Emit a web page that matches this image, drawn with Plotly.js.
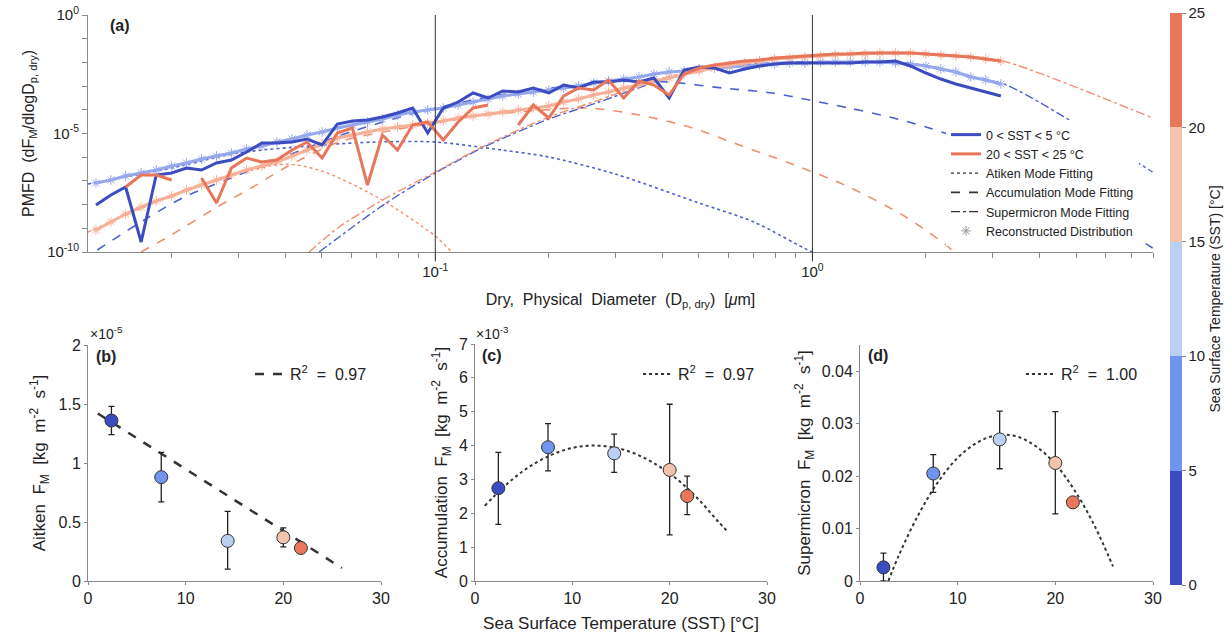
<!DOCTYPE html>
<html>
<head>
<meta charset="utf-8">
<script src="https://cdn.plot.ly/plotly-3.0.1.min.js"></script>
<style>html,body{margin:0;padding:0;background:#fff;}#chart{width:1232px;height:639px;}</style>
</head>
<body>
<div id="chart"></div>
<script>
// ---------- Panel (a): size distributions ----------
const diam = [0.0126,0.0138,0.0151,0.0166,0.0182,0.0200,0.0219,0.0240,0.0263,0.0288,0.0316,0.0347,0.0380,0.0417,0.0457,0.0501,0.0550,0.0603,0.0661,0.0724,0.0794,0.0871,0.0955,0.105,0.115,0.126,0.138,0.151,0.166,0.182,0.200,0.219,0.240,0.263,0.288,0.316,0.347,0.380,0.417,0.457,0.501,0.550,0.603,0.661,0.724,0.794,0.871,0.955,1.05,1.15,1.26,1.38,1.51,1.66,1.82,2.00,2.19,2.40,2.63,2.88,3.16];

const blueMeasured = [9.62e-9,2.54e-8,5.53e-8,2.64e-10,1.77e-7,2.15e-7,3.50e-7,2.88e-7,5.69e-7,7.62e-7,1.66e-6,3.97e-6,3.97e-6,4.38e-6,5.86e-6,3.27e-6,2.52e-5,3.37e-5,3.71e-5,4.97e-5,7.33e-5,1.19e-4,1.05e-5,1.19e-4,2.13e-4,5.12e-4,3.15e-4,6.21e-4,5.64e-4,8.31e-4,5.12e-4,1.11e-3,8.31e-4,1.49e-3,1.49e-3,1.81e-3,1.49e-3,2.20e-3,3.15e-4,4.78e-3,6.40e-3,5.80e-3,3.57e-3,5.27e-3,7.05e-3,8.56e-3,9.43e-3,9.43e-3,9.43e-3,9.43e-3,9.43e-3,1.04e-2,1.04e-2,1.15e-2,7.05e-3,3.57e-3,1.99e-3,1.23e-3,8.31e-4,5.64e-4,3.82e-4];

const orangeMeasured = [null,null,5.53e-8,1.77e-7,1.77e-7,1.09e-7,null,1.33e-7,1.17e-8,3.50e-7,9.25e-7,6.27e-7,7.62e-7,2.01e-6,4.38e-6,9.25e-7,1.05e-5,1.71e-5,6.71e-8,8.65e-6,2.01e-6,2.28e-5,3.06e-5,5.32e-6,3.06e-5,1.19e-4,1.59e-4,null,2.28e-5,1.59e-4,4.51e-5,3.82e-4,8.31e-4,6.84e-4,1.81e-3,3.15e-4,1.64e-3,1.11e-3,4.21e-4,3.24e-3,5.80e-3,7.77e-3,9.43e-3,1.15e-2,1.26e-2,1.53e-2,1.69e-2,1.86e-2,2.05e-2,2.26e-2,2.26e-2,2.49e-2,2.49e-2,2.49e-2,2.49e-2,2.26e-2,2.05e-2,1.86e-2,1.69e-2,1.39e-2,1.15e-2];

const blueRecon = [8.15e-8,1.09e-7,1.61e-7,2.15e-7,2.88e-7,4.25e-7,5.69e-7,8.40e-7,1.12e-6,1.50e-6,2.22e-6,2.97e-6,4.38e-6,5.86e-6,8.65e-6,1.16e-5,1.71e-5,2.28e-5,3.06e-5,4.09e-5,6.03e-5,8.08e-5,9.81e-5,1.19e-4,1.59e-4,2.13e-4,2.86e-4,3.82e-4,4.64e-4,5.64e-4,6.84e-4,8.31e-4,1.01e-3,1.35e-3,1.64e-3,1.99e-3,2.42e-3,3.24e-3,3.93e-3,4.34e-3,5.27e-3,5.80e-3,6.40e-3,7.05e-3,7.77e-3,8.56e-3,9.43e-3,9.43e-3,1.04e-2,1.04e-2,1.04e-2,1.04e-2,1.04e-2,9.43e-3,8.56e-3,7.05e-3,5.27e-3,3.93e-3,2.42e-3,1.81e-3,1.23e-3];

const orangeRecon = [8.48e-10,1.84e-9,4.01e-9,7.92e-9,1.42e-8,2.31e-8,4.13e-8,6.71e-8,1.09e-7,1.77e-7,2.88e-7,4.25e-7,6.27e-7,1.12e-6,2.01e-6,3.61e-6,6.46e-6,8.65e-6,1.16e-5,1.55e-5,1.88e-5,2.28e-5,2.77e-5,3.37e-5,4.51e-5,5.48e-5,6.65e-5,8.08e-5,9.81e-5,1.19e-4,1.45e-4,2.13e-4,2.86e-4,4.21e-4,5.64e-4,8.31e-4,1.11e-3,1.64e-3,2.20e-3,3.24e-3,4.34e-3,5.80e-3,7.77e-3,9.43e-3,1.15e-2,1.39e-2,1.53e-2,1.69e-2,1.86e-2,2.05e-2,2.26e-2,2.26e-2,2.49e-2,2.49e-2,2.49e-2,2.26e-2,2.05e-2,1.86e-2,1.69e-2,1.39e-2,1.15e-2];

// mode fittings
const blueAitkenD = [0.012,0.02,0.03,0.05,0.07,0.1,0.15,0.2,0.3,0.5,0.7,1.0,1.2];
const blueAitkenV = [7.40e-8,3.50e-7,1.50e-6,3.27e-6,4.38e-6,4.38e-6,2.01e-6,1.02e-6,1.95e-7,1.17e-8,1.84e-9,1.0e-10,3.8e-11];
const orangeAitkenD = [0.012,0.02,0.03,0.04,0.05,0.07,0.1,0.11,0.12];
const orangeAitkenV = [6.98e-10,2.31e-8,1.95e-7,5.17e-7,2.62e-7,2.09e-8,4.73e-10,1.10e-10,3.8e-11];
const blueAccumD = [0.0127,0.0169,0.0216,0.0288,0.0397,0.0574,0.0907,0.148,0.241,0.33,0.418,0.577,0.783,0.982,1.25,1.60,2.04,3.04,7.98];
const blueAccumV = [1.21e-10,2.24e-9,2.09e-8,1.33e-7,1.02e-6,9.53e-6,8.08e-5,4.21e-4,1.11e-3,1.64e-3,1.49e-3,8.31e-4,5.12e-4,2.59e-4,1.19e-4,4.97e-5,1.71e-5,1.66e-6,1.48e-10];
const orangeAccumD = [0.0166,0.01995,0.0264,0.0325,0.0403,0.0556,0.0803,0.1,0.13,0.178,0.256,0.347,0.472,0.640,0.869,1.25,1.77,2.31,2.5];
const orangeAccumV = [1.0e-10,5.21e-10,7.92e-9,5.02e-8,3.86e-7,4.38e-6,1.55e-5,2.77e-5,5.48e-5,8.90e-5,1.19e-4,6.03e-5,1.88e-5,3.27e-6,5.69e-7,5.53e-8,3.0e-9,1.48e-10,4.6e-11];
const blueSuperD = [0.0492,0.0556,0.0741,0.1,0.133,0.197,0.272,0.386,0.577,0.869,1.18,1.77,2.17,2.66,3.27,7.98];
const blueSuperV = [1.0e-10,4.3e-10,1.17e-8,2.15e-7,2.44e-6,3.71e-5,2.13e-4,1.49e-3,6.40e-3,1.04e-2,1.04e-2,9.43e-3,5.80e-3,2.42e-3,1.11e-3,2.37e-7];
const orangeSuperD = [0.0463,0.0556,0.0741,0.1,0.133,0.197,0.272,0.386,0.577,0.869,1.18,1.77,2.66,3.27,7.98];
const orangeSuperV = [1.0e-10,1.13e-9,1.90e-8,2.37e-7,2.69e-6,4.51e-5,2.59e-4,1.81e-3,7.77e-3,1.69e-2,2.26e-2,2.49e-2,1.69e-2,1.04e-2,4.51e-5];

// axis ticks of panel (a)
const xMajorVals = [0.1, 1];
const xMajorText = ['10<sup>-1</sup>', '10<sup>0</sup>'];
const xMinorVals = [0.02,0.03,0.04,0.05,0.06,0.07,0.08,0.09,0.2,0.3,0.4,0.5,0.6,0.7,0.8,0.9,2,3,4,5,6,7,8];
const yMajorVals = [1e-10, 1e-5, 1];
const yMajorText = ['10<sup>-10</sup>', '10<sup>-5</sup>', '10<sup>0</sup>'];
const yMinorVals = [1e-9,1e-8,1e-7,1e-6,1e-4,1e-3,1e-2,1e-1];

// ---------- Panels (b)-(d): fluxes vs SST ----------
const sstMean = [2.4, 7.5, 14.3, 20.0, 21.8];
const sstBin = [2.5, 7.5, 12.5, 17.5, 22.5];
const aitkenFlux = [1.36e-5, 0.88e-5, 0.34e-5, 0.37e-5, 0.28e-5];
const aitkenErrPlus = [0.12e-5, 0.21e-5, 0.25e-5, 0.08e-5, 0.02e-5];
const aitkenErrMinus = [0.12e-5, 0.21e-5, 0.24e-5, 0.08e-5, 0.02e-5];
const aitkenFitX = [1, 26];
const aitkenFitY = [1.42e-5, 0.11e-5];
const accumFlux = [2.74e-3, 3.95e-3, 3.77e-3, 3.28e-3, 2.51e-3];
const accumErrPlus = [1.06e-3, 0.70e-3, 0.57e-3, 1.94e-3, 0.59e-3];
const accumErrMinus = [1.07e-3, 0.70e-3, 0.56e-3, 1.92e-3, 0.55e-3];
const accumFitX = [1,3,5,7,9,11,13,15,17,19,21,23,25,26];
const accumFitY = [2.22e-3,2.79e-3,3.26e-3,3.61e-3,3.85e-3,3.98e-3,3.99e-3,3.90e-3,3.69e-3,3.37e-3,2.95e-3,2.40e-3,1.75e-3,1.45e-3];
const superFlux = [0.0026, 0.0205, 0.0270, 0.0225, 0.0150];
const superErrPlus = [0.0027, 0.0036, 0.0054, 0.0098, 0.0004];
const superErrMinus = [0.0026, 0.0036, 0.0056, 0.0097, 0.0004];
const superFitX = [2.9,4,6,8,10,12,14,16,18,20,22,24,25.9];
const superFitY = [0,0.0050,0.0127,0.0189,0.0235,0.0264,0.0278,0.0276,0.0257,0.0223,0.0172,0.0106,0.0028];
const cbTicks = [0,5,10,15,20,25];

const BLUE = '#3a4cc0', ORANGE = '#e8765a';
const BLUE_FIT = '#4d60cf', ORANGE_FIT = '#f08f70';
const BLUE_AST = '#95a8ec', ORANGE_AST = '#f6b097';
const sstScale = [[0,'#3b4cc0'],[0.2,'#3b4cc0'],[0.2,'#7194ee'],[0.4,'#7194ee'],[0.4,'#bbcff2'],[0.6,'#bbcff2'],[0.6,'#f3c4ad'],[0.8,'#f3c4ad'],[0.8,'#e8785b'],[1,'#e8785b']];
const FONT = 'Liberation Sans, Arial, Helvetica, sans-serif';

function modeLine(x, y, color, dash, width) {
  return {x: x, y: y, type: 'scatter', mode: 'lines', xaxis: 'x', yaxis: 'y', showlegend: false, hoverinfo: 'skip',
    line: {color: color, dash: dash, width: width, shape: 'spline', smoothing: 0.8}};
}
function legendDummy(name, line, marker, mode) {
  return {x: [null], y: [null], type: 'scatter', mode: mode, name: name, xaxis: 'x', yaxis: 'y', legend: 'legend',
    line: line, marker: marker, showlegend: true};
}

const traces = [
  modeLine(blueAitkenD, blueAitkenV, BLUE_FIT, 'dot', 1.6),
  modeLine(orangeAitkenD, orangeAitkenV, ORANGE_FIT, 'dot', 1.4),
  modeLine(blueAccumD, blueAccumV, BLUE_FIT, 'dash', 1.6),
  modeLine(orangeAccumD, orangeAccumV, ORANGE_FIT, 'dash', 1.6),
  modeLine(blueSuperD, blueSuperV, BLUE_FIT, 'dashdot', 1.4),
  modeLine(orangeSuperD, orangeSuperV, ORANGE_FIT, 'dashdot', 1.4),
  {x: diam, y: blueRecon, type: 'scatter', mode: 'lines+markers', xaxis: 'x', yaxis: 'y', showlegend: false,
   line: {color: BLUE_AST, width: 3}, marker: {symbol: 'asterisk-open', size: 8, color: BLUE_AST, line: {color: BLUE_AST, width: 1}}},
  {x: diam, y: orangeRecon, type: 'scatter', mode: 'lines+markers', xaxis: 'x', yaxis: 'y', showlegend: false,
   line: {color: ORANGE_AST, width: 3}, marker: {symbol: 'asterisk-open', size: 8, color: ORANGE_AST, line: {color: ORANGE_AST, width: 1}}},
  {x: diam, y: blueMeasured, type: 'scatter', mode: 'lines', name: '0 < SST < 5 °C', xaxis: 'x', yaxis: 'y',
   legend: 'legend', line: {color: BLUE, width: 3}},
  {x: diam, y: orangeMeasured, type: 'scatter', mode: 'lines', name: '20 < SST < 25 °C', xaxis: 'x', yaxis: 'y',
   legend: 'legend', line: {color: ORANGE, width: 3}},
  legendDummy('Atiken Mode Fitting', {color: '#333', dash: 'dot', width: 1.3}, {}, 'lines'),
  legendDummy('Accumulation Mode Fitting', {color: '#333', dash: 'dash', width: 1.6}, {}, 'lines'),
  legendDummy('Supermicron Mode Fitting', {color: '#333', dash: 'dashdot', width: 1.4}, {}, 'lines'),
  legendDummy('Reconstructed Distribution', {}, {symbol: 'asterisk-open', size: 8, color: '#999', line: {color: '#999', width: 1}}, 'markers'),

  // (b)
  {x: aitkenFitX, y: aitkenFitY, type: 'scatter', mode: 'lines', xaxis: 'x2', yaxis: 'y2', name: 'R<sup>2</sup>  =  0.97',
   legend: 'legend2', line: {color: '#333', dash: 'dash', width: 2.5}},
  {x: sstMean, y: aitkenFlux, type: 'scatter', mode: 'markers', xaxis: 'x2', yaxis: 'y2', showlegend: false,
   error_y: {type: 'data', symmetric: false, array: aitkenErrPlus, arrayminus: aitkenErrMinus, color: '#222', thickness: 1.3, width: 3},
   marker: {size: 13, color: sstBin, colorscale: sstScale, cmin: 0, cmax: 25, line: {color: '#333', width: 1},
     showscale: true,
     colorbar: {x: 1170/1232, xanchor: 'left', xpad: 0, ypad: 0, thickness: 12, thicknessmode: 'pixels',
       len: 572, lenmode: 'pixels', y: 1 - 299/639, yanchor: 'middle', tickvals: cbTicks,
       ticks: 'outside', ticklen: 4, tickcolor: '#888', tickfont: {size: 15, color: '#222'}, outlinewidth: 0,
       title: {text: 'Sea Surface Temperature (SST) [°C]', side: 'right', font: {size: 14, color: '#222'}}}}},
  // (c)
  {x: accumFitX, y: accumFitY, type: 'scatter', mode: 'lines', xaxis: 'x3', yaxis: 'y3', name: 'R<sup>2</sup>  =  0.97',
   legend: 'legend3', line: {color: '#333', dash: 'dot', width: 2, shape: 'spline'}},
  {x: sstMean, y: accumFlux, type: 'scatter', mode: 'markers', xaxis: 'x3', yaxis: 'y3', showlegend: false,
   error_y: {type: 'data', symmetric: false, array: accumErrPlus, arrayminus: accumErrMinus, color: '#222', thickness: 1.3, width: 3},
   marker: {size: 13, color: sstBin, colorscale: sstScale, cmin: 0, cmax: 25, line: {color: '#333', width: 1}, showscale: false}},
  // (d)
  {x: superFitX, y: superFitY, type: 'scatter', mode: 'lines', xaxis: 'x4', yaxis: 'y4', name: 'R<sup>2</sup>  =  1.00',
   legend: 'legend4', line: {color: '#333', dash: 'dot', width: 2, shape: 'spline'}},
  {x: sstMean, y: superFlux, type: 'scatter', mode: 'markers', xaxis: 'x4', yaxis: 'y4', showlegend: false,
   error_y: {type: 'data', symmetric: false, array: superErrPlus, arrayminus: superErrMinus, color: '#222', thickness: 1.3, width: 3},
   marker: {size: 13, color: sstBin, colorscale: sstScale, cmin: 0, cmax: 25, line: {color: '#333', width: 1}, showscale: false}}
];

const W = 1232, H = 639;
const px = v => v / W;
const py = v => 1 - v / H;
const axisBase = {showline: true, linecolor: '#8a8a8a', linewidth: 1, ticks: 'outside', ticklen: 5, tickcolor: '#8a8a8a',
  showgrid: false, zeroline: false, tickfont: {size: 16, color: '#222'}, fixedrange: true};
const sstTicks = [0,10,20,30];

const layout = {
  width: W, height: H, margin: {l: 0, r: 0, t: 0, b: 0}, paper_bgcolor: '#fff', plot_bgcolor: 'rgba(0,0,0,0)',
  font: {family: FONT, color: '#222'},
  xaxis: Object.assign({}, axisBase, {type: 'log', domain: [px(88), px(1153)], range: [Math.log10(0.012), Math.log10(8)],
    anchor: 'y', tickmode: 'array', tickvals: xMajorVals, ticktext: xMajorText, tickfont: {size: 15, color: '#222'}, ticklen: 6,
    minor: {tickmode: 'array', tickvals: xMinorVals, ticks: 'outside', ticklen: 5, tickcolor: '#8a8a8a', showgrid: false},
    title: {text: 'Dry,\u00a0 Physical\u00a0 Diameter\u00a0 (D<sub>p,\u00a0dry</sub>)\u00a0 [<i>\u03bc</i>m]', font: {size: 16, color: '#222'}, standoff: 14}}),
  yaxis: Object.assign({}, axisBase, {type: 'log', domain: [py(252), py(15)], range: [-10, 0], anchor: 'x',
    tickmode: 'array', tickvals: yMajorVals, ticktext: yMajorText, tickfont: {size: 15, color: '#222'},
    minor: {tickmode: 'array', tickvals: yMinorVals, ticks: 'outside', ticklen: 5, tickcolor: '#8a8a8a', showgrid: false},
    title: {text: 'PMFD\u00a0 (dF<sub>M</sub>/dlogD<sub>p,\u00a0dry</sub>)', font: {size: 16, color: '#222'}, standoff: 8}}),
  xaxis2: Object.assign({}, axisBase, {domain: [px(88), px(381)], range: [0, 30], anchor: 'y2', tickvals: sstTicks, ticklen: 3}),
  yaxis2: Object.assign({}, axisBase, {domain: [py(581), py(345)], range: [0, 2e-5], anchor: 'x2', ticklen: 3,
    tickvals: [0, 0.5e-5, 1e-5, 1.5e-5, 2e-5], ticktext: ['0','0.5','1','1.5','2'],
    title: {text: 'Aitken\u00a0 F<sub>M</sub>\u00a0 [kg\u00a0 m<sup>-2</sup>\u00a0 s<sup>-1</sup>]', font: {size: 17, color: '#222'}, standoff: 8}}),
  xaxis3: Object.assign({}, axisBase, {domain: [px(475), px(767)], range: [0, 30], anchor: 'y3', tickvals: sstTicks, ticklen: 3,
    title: {text: 'Sea Surface Temperature (SST) [°C]', font: {size: 17, color: '#222'}, standoff: 10}}),
  yaxis3: Object.assign({}, axisBase, {domain: [py(581), py(344)], range: [0, 7e-3], anchor: 'x3', ticklen: 3,
    tickvals: [0,1e-3,2e-3,3e-3,4e-3,5e-3,6e-3,7e-3], ticktext: ['0','1','2','3','4','5','6','7'],
    title: {text: 'Accumulation\u00a0 F<sub>M</sub>\u00a0 [kg\u00a0 m<sup>-2</sup>\u00a0 s<sup>-1</sup>]', font: {size: 17, color: '#222'}, standoff: 6}}),
  xaxis4: Object.assign({}, axisBase, {domain: [px(860), px(1153)], range: [0, 30], anchor: 'y4', tickvals: sstTicks, ticklen: 3}),
  yaxis4: Object.assign({}, axisBase, {domain: [py(581), py(345)], range: [0, 0.045], anchor: 'x4', ticklen: 3,
    tickvals: [0,0.01,0.02,0.03,0.04], ticktext: ['0','0.01','0.02','0.03','0.04'],
    title: {text: 'Supermicron\u00a0 F<sub>M</sub>\u00a0 [kg\u00a0 m<sup>-2</sup>\u00a0 s<sup>-1</sup>]', font: {size: 17, color: '#222'}, standoff: 6}}),
  legend: {x: px(946), y: py(120), xanchor: 'left', yanchor: 'top', bgcolor: '#fff', borderwidth: 0,
    font: {size: 12.5, color: '#222'}, tracegroupgap: 0, traceorder: 'normal'},
  legend2: {x: px(250), y: py(357), xanchor: 'left', yanchor: 'top', bgcolor: 'rgba(0,0,0,0)', font: {size: 16, color: '#222'}},
  legend3: {x: px(638), y: py(357), xanchor: 'left', yanchor: 'top', bgcolor: 'rgba(0,0,0,0)', font: {size: 16, color: '#222'}},
  legend4: {x: px(1021), y: py(357), xanchor: 'left', yanchor: 'top', bgcolor: 'rgba(0,0,0,0)', font: {size: 16, color: '#222'}},
  shapes: [
    {type: 'line', xref: 'x', yref: 'y domain', x0: 0.1, x1: 0.1, y0: -0.04, y1: 1, line: {color: '#333', width: 1}},
    {type: 'line', xref: 'x', yref: 'y domain', x0: 1, x1: 1, y0: -0.04, y1: 1, line: {color: '#333', width: 1}}
  ],
  annotations: [
    {text: '<b>(a)</b>', xref: 'paper', yref: 'paper', x: px(108), y: py(25), xanchor: 'left', yanchor: 'middle', showarrow: false, font: {size: 16, color: '#222'}},
    {text: '<b>(b)</b>', xref: 'paper', yref: 'paper', x: px(94), y: py(356), xanchor: 'left', yanchor: 'middle', showarrow: false, font: {size: 16, color: '#222'}},
    {text: '<b>(c)</b>', xref: 'paper', yref: 'paper', x: px(480), y: py(355), xanchor: 'left', yanchor: 'middle', showarrow: false, font: {size: 16, color: '#222'}},
    {text: '<b>(d)</b>', xref: 'paper', yref: 'paper', x: px(866), y: py(355), xanchor: 'left', yanchor: 'middle', showarrow: false, font: {size: 16, color: '#222'}},
    {text: '\u00d710<sup>-5</sup>', xref: 'paper', yref: 'paper', x: px(88), y: py(333), xanchor: 'left', yanchor: 'middle', showarrow: false, font: {size: 14, color: '#222'}},
    {text: '\u00d710<sup>-3</sup>', xref: 'paper', yref: 'paper', x: px(474), y: py(333), xanchor: 'left', yanchor: 'middle', showarrow: false, font: {size: 14, color: '#222'}}
  ]
};

Plotly.newPlot('chart', traces, layout, {staticPlot: true, displayModeBar: false});
</script>
</body>
</html>
